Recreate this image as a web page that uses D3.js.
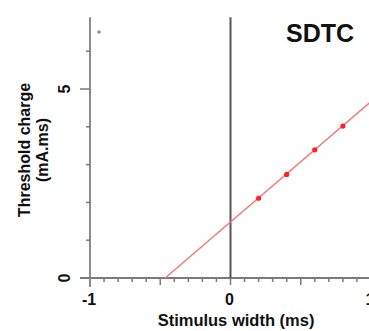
<!DOCTYPE html>
<html>
<head>
<style>
body { margin: 0; background: #fff; }
svg text { font-family: "Liberation Sans", Arial, sans-serif; font-weight: bold; fill: #111; }
</style>
<script src="https://cdn.jsdelivr.net/npm/d3@7"></script>
</head>
<body>
<svg id="chart" width="369" height="331"></svg>
<script>
// measured points (stimulus width ms, threshold charge mA.ms)
var widths = [0.2, 0.4, 0.6, 0.8];
var charges = [2.11, 2.74, 3.39, 4.02];
// fitted line end points
var fitX = [-0.465, 1.0];
var fitY = [0, 4.67];

var xTicks = [-1, 0, 1];
var yTicks = [0, 5];

var width = 369, height = 331;
var svg = d3.select('#chart');

var x = d3.scaleLinear().domain([-1, 1]).range([90, 371]);
var y = d3.scaleLinear().domain([0, 5]).range([278, 89]);

// x axis line and ticks
svg.append("line")
  .attr("x1", 80).attr("x2", width)
  .attr("y1", y(0)).attr("y2", y(0))
  .attr("stroke", "#7a7a7a").attr("stroke-width", 2);

var minorX = d3.range(-10, 11).map(d => d / 10);
svg.selectAll(".xtick")
  .data(minorX)
  .join("line")
  .attr("x1", d => x(d)).attr("x2", d => x(d))
  .attr("y1", y(0))
  .attr("y2", d => y(0) + (Math.abs(d * 2 - Math.round(d * 2)) < 1e-6 ? 7 : 4))
  .attr("stroke", "#7a7a7a").attr("stroke-width", 1.5);

// y axis line and ticks
svg.append("line")
  .attr("x1", x(-1)).attr("x2", x(-1))
  .attr("y1", y(6.9)).attr("y2", y(0) + 9)
  .attr("stroke", "#8a8a8a").attr("stroke-width", 2);

var minorY = d3.range(0, 7);
svg.selectAll(".ytick")
  .data(minorY)
  .join("line")
  .attr("x1", d => x(-1) - (d % 5 == 0 ? 10 : 4)).attr("x2", x(-1))
  .attr("y1", d => y(d)).attr("y2", d => y(d))
  .attr("stroke", "#7a7a7a").attr("stroke-width", 1.5);

// vertical line at zero
svg.append("line")
  .attr("x1", x(0)).attr("x2", x(0))
  .attr("y1", y(6.9)).attr("y2", y(0))
  .attr("stroke", "#555").attr("stroke-width", 2);

// tick labels
svg.selectAll(".xlab")
  .data(xTicks)
  .join("text")
  .attr("x", d => x(d) - 1)
  .attr("y", 305)
  .attr("text-anchor", "middle")
  .attr("font-size", 16)
  .text(d => d);

svg.selectAll(".ylab")
  .data(yTicks)
  .join("text")
  .attr("text-anchor", "middle")
  .attr("font-size", 16)
  .attr("transform", d => "translate(" + 70 + "," + y(d) + ") rotate(-90)")
  .text(d => d);

// fitted line
var line = d3.line().x(d => x(d[0])).y(d => y(d[1]));
svg.append("path")
  .datum(d3.zip(fitX, fitY))
  .attr("d", line)
  .attr("fill", "none")
  .attr("stroke", "#f07a7a")
  .attr("stroke-width", 1.5);

svg.selectAll(".pt")
  .data(d3.zip(widths, charges))
  .join("circle")
  .attr("cx", d => x(d[0]))
  .attr("cy", d => y(d[1]))
  .attr("r", 2.6)
  .attr("fill", "#ff2222");

// little marker near the top left
svg.append("circle")
  .attr("cx", 99).attr("cy", 32).attr("r", 1.8)
  .attr("fill", "#7d95aa");

// title
svg.append("text")
  .attr("x", 320).attr("y", 42)
  .attr("text-anchor", "middle")
  .attr("font-size", 25)
  .text("SDTC");

// axis titles
svg.append("text")
  .attr("x", 236).attr("y", 326)
  .attr("text-anchor", "middle")
  .attr("font-size", 16.5)
  .text("Stimulus width (ms)");

svg.append("text")
  .attr("transform", "translate(30,150) rotate(-90)")
  .attr("text-anchor", "middle")
  .attr("font-size", 16)
  .text("Threshold charge");

svg.append("text")
  .attr("transform", "translate(48,150) rotate(-90)")
  .attr("text-anchor", "middle")
  .attr("font-size", 16)
  .text("(mA.ms)");
</script>
</body>
</html>
